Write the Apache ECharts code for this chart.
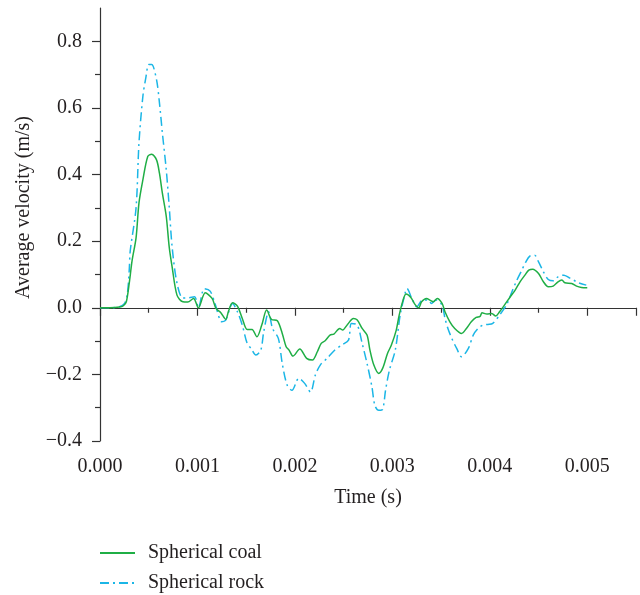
<!DOCTYPE html>
<html>
<head>
<meta charset="utf-8">
<script src="https://cdn.jsdelivr.net/npm/echarts@6/dist/echarts.min.js"></script>
<style>
    html, body { margin: 0; padding: 0; background: #fff; }
    #chart { width: 640px; height: 595px; }
</style>
</head>
<body>
<div id="chart"></div>
<script>
// time (s) / average velocity (m/s)
var coalTime = [0, 0.0001, 0.0002, 0.00024, 0.00027, 0.0003, 0.00033, 0.00037, 0.0004, 0.00044,
    0.00049, 0.00053, 0.00058, 0.00061, 0.00064, 0.00068, 0.00071, 0.00074, 0.00079, 0.00085,
    0.0009, 0.00096, 0.00101, 0.00108, 0.00115, 0.00119, 0.00124, 0.00129, 0.00132, 0.00136,
    0.00141, 0.00146, 0.00151, 0.00156, 0.00161, 0.00166, 0.00171, 0.00176, 0.00182, 0.00187,
    0.00191, 0.00194, 0.00198, 0.00205, 0.00212, 0.00218, 0.00223, 0.00227, 0.00231, 0.00236,
    0.0024, 0.00246, 0.00249, 0.00254, 0.0026, 0.00264, 0.00269, 0.00274, 0.00277, 0.00281,
    0.00286, 0.0029, 0.00295, 0.00299, 0.00304, 0.00307, 0.00311, 0.00314, 0.00319, 0.00323,
    0.00327, 0.0033, 0.00335, 0.00339, 0.00342, 0.00346, 0.00351, 0.00354, 0.00359, 0.00364,
    0.00371, 0.00376, 0.00381, 0.00386, 0.0039, 0.00392, 0.00397, 0.00402, 0.00406, 0.0041,
    0.00415, 0.00421, 0.00426, 0.00431, 0.00436, 0.0044, 0.00444, 0.0045, 0.00455, 0.0046,
    0.00465, 0.0047, 0.00474, 0.00477, 0.00484, 0.00489, 0.00494, 0.005];
var coalVel = [0, 0, 0.002, 0.006, 0.018, 0.074, 0.143, 0.21, 0.315, 0.384,
    0.454, 0.461, 0.444, 0.404, 0.344, 0.274, 0.183, 0.123, 0.038, 0.018,
    0.017, 0.028, 0.0, 0.045, 0.028, -0.002, -0.015, -0.035, -0.009, 0.015,
    0.005, -0.032, -0.065, -0.065, -0.087, -0.052, -0.007, -0.035, -0.039, -0.077,
    -0.117, -0.127, -0.145, -0.124, -0.152, -0.157, -0.132, -0.107, -0.099, -0.082,
    -0.079, -0.062, -0.067, -0.05, -0.032, -0.037, -0.062, -0.082, -0.127, -0.172,
    -0.197, -0.182, -0.137, -0.112, -0.067, -0.022, 0.023, 0.041, 0.031, 0.011,
    0.0, 0.018, 0.028, 0.022, 0.018, 0.028, 0.013, -0.012, -0.042, -0.062,
    -0.077, -0.062, -0.042, -0.029, -0.026, -0.015, -0.019, -0.017, -0.025, -0.012,
    0.008, 0.033, 0.053, 0.078, 0.098, 0.113, 0.116, 0.103, 0.078, 0.063,
    0.065, 0.078, 0.083, 0.075, 0.073, 0.065, 0.061, 0.06];

var rockTime = [0, 0.0001, 0.0002, 0.00025, 0.00028, 0.0003, 0.00031, 0.00037, 0.0004, 0.00044,
    0.00047, 0.0005, 0.00053, 0.00058, 0.00061, 0.00064, 0.00068, 0.00071, 0.00074, 0.00079,
    0.00085, 0.00091, 0.00097, 0.00101, 0.00107, 0.00113, 0.00118, 0.00125, 0.00129, 0.00136,
    0.00141, 0.00146, 0.00151, 0.00155, 0.0016, 0.00165, 0.00168, 0.00173, 0.00177, 0.00183,
    0.00187, 0.00192, 0.00197, 0.00204, 0.0021, 0.00216, 0.00221, 0.00226, 0.00233, 0.00241,
    0.00248, 0.00255, 0.00258, 0.00264, 0.00269, 0.00274, 0.00279, 0.00282, 0.00286, 0.0029,
    0.00293, 0.00297, 0.00303, 0.00308, 0.00313, 0.00315, 0.0032, 0.00325, 0.00331, 0.00337,
    0.0034, 0.00345, 0.00351, 0.00354, 0.00357, 0.00361, 0.00366, 0.00371, 0.00378, 0.00383,
    0.00388, 0.00393, 0.00398, 0.00403, 0.0041, 0.00417, 0.00422, 0.00427, 0.00432, 0.00437,
    0.00441, 0.00446, 0.0045, 0.00455, 0.0046, 0.00465, 0.0047, 0.00476, 0.00481, 0.00486,
    0.00491, 0.00499];
var rockVel = [0, 0, 0.003, 0.012, 0.04, 0.113, 0.17, 0.30, 0.495, 0.635,
    0.69, 0.73, 0.73, 0.685, 0.615, 0.525, 0.414, 0.304, 0.183, 0.074,
    0.029, 0.03, 0.033, 0.0, 0.057, 0.05, 0.013, -0.042, -0.037, 0.013,
    -0.012, -0.052, -0.107, -0.122, -0.142, -0.127, -0.072, -0.012, -0.062, -0.092,
    -0.167, -0.232, -0.248, -0.212, -0.227, -0.253, -0.202, -0.172, -0.152, -0.127,
    -0.112, -0.097, -0.047, -0.052, -0.107, -0.167, -0.237, -0.293, -0.308, -0.305,
    -0.248, -0.187, -0.127, -0.022, 0.043, 0.058, 0.028, 0.003, 0.023, 0.023,
    0.013, 0.023, 0.008, -0.032, -0.062, -0.092, -0.122, -0.147, -0.122, -0.082,
    -0.062, -0.052, -0.05, -0.047, -0.022, 0.008, 0.043, 0.078, 0.108, 0.138,
    0.155, 0.158, 0.138, 0.108, 0.085, 0.081, 0.093, 0.098, 0.091, 0.083,
    0.075, 0.068];

var seriesNames = ['Spherical coal', 'Spherical rock'];
var yMajorTicks = [-0.4, -0.2, 0, 0.2, 0.4, 0.6, 0.8];

function pairs(xs, ys) {
    return xs.map(function (x, i) { return [x, ys[i]]; });
}

var font = 'Liberation Serif';
var ink = '#231f20';
var axisColor = '#333';

var myChart = echarts.init(document.getElementById('chart'));
var option = {
    animation: false,
    grid: { left: 100, right: 4, top: 8, bottom: 154, containLabel: false },
    legend: {
        orient: 'vertical',
        left: 99,
        top: 543,
        padding: 0,
        itemWidth: 35,
        itemHeight: 14,
        itemGap: 10,
        itemStyle: { opacity: 0 },
        textStyle: { fontFamily: font, fontSize: 20, color: ink, lineHeight: 20, padding: [0, 0, 0, 8] },
        data: seriesNames
    },
    xAxis: {
        type: 'value',
        min: 0,
        max: 0.0055,
        interval: 0.001,
        name: 'Time (s)',
        nameLocation: 'middle',
        nameGap: 47,
        nameTextStyle: { fontFamily: font, fontSize: 20, color: ink },
        axisLine: { lineStyle: { color: axisColor, width: 1.2 } },
        axisTick: { show: true, inside: false, length: 8, lineStyle: { color: axisColor, width: 1.2 } },
        minorTick: { show: true, splitNumber: 2, length: 5, lineStyle: { color: axisColor, width: 1.2 } },
        splitLine: { show: false },
        axisLabel: {
            margin: 16,
            fontFamily: font, fontSize: 20, color: ink,
            showMaxLabel: false,
            formatter: function (v) { return v.toFixed(3); }
        }
    },
    yAxis: {
        type: 'value',
        min: -0.4,
        max: 0.9,
        interval: 0.2,
        name: 'Average velocity (m/s)',
        nameLocation: 'middle',
        nameGap: 66,
        nameTextStyle: { fontFamily: font, fontSize: 20, color: ink, padding: [0, 0, 0, 34] },
        axisLine: { show: true, lineStyle: { color: axisColor, width: 1.2 } },
        axisTick: { show: true, inside: false, length: 8, customValues: yMajorTicks, lineStyle: { color: axisColor, width: 1.2 } },
        minorTick: { show: true, splitNumber: 2, length: 5, lineStyle: { color: axisColor, width: 1.2 } },
        splitLine: { show: false },
        axisLabel: {
            margin: 18,
            fontFamily: font, fontSize: 20, color: ink,
            customValues: yMajorTicks,
            formatter: function (v) {
                var s = Math.abs(v).toFixed(1);
                return v < -1e-9 ? '\u2212' + s : s;
            }
        }
    },
    series: [
        {
            name: seriesNames[0],
            type: 'line',
            data: pairs(coalTime, coalVel),
            symbol: 'none',
            smooth: 0.3,
            z: 3,
            lineStyle: { color: '#1fae45', width: 1.5, type: 'solid' },
            itemStyle: { color: '#1fae45' }
        },
        {
            name: seriesNames[1],
            type: 'line',
            data: pairs(rockTime, rockVel),
            symbol: 'none',
            smooth: 0.3,
            z: 2,
            lineStyle: { color: '#1bb6e6', width: 1.5, type: [9, 4, 2, 4] },
            itemStyle: { color: '#1bb6e6' }
        }
    ]
};
myChart.setOption(option);
</script>
</body>
</html>
